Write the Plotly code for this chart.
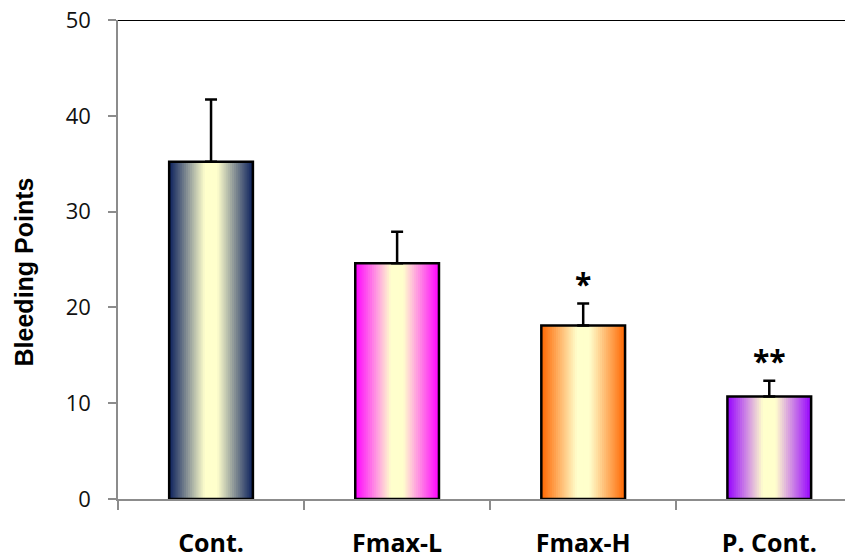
import plotly.graph_objects as go

categories = ["Cont.", "Fmax-L", "Fmax-H", "P. Cont."]
values = [35.2, 24.6, 18.1, 10.7]
errors = [6.5, 3.3, 2.3, 1.65]
signif = ["", "", "*", "**"]
y_ticks = [0, 10, 20, 30, 40, 50]

edge_colors = [(10, 31, 92), (255, 0, 255), (255, 102, 0), (150, 0, 255)]
center_color = (255, 255, 204)

BAR_W = 0.45
N = 40

def mix(c1, c2, t):
    return "rgb(%d,%d,%d)" % tuple(round(a + (b - a) * t) for a, b in zip(c1, c2))

fig = go.Figure()
step = BAR_W / N
for i in range(N):
    pos = (i + 0.5) / N  # 0..1 across bar
    d = abs(pos - 0.5) * 2  # 0 center, 1 edge
    t = min(1.0, max(0.0, (1 - d) / 0.85))
    cols = [mix(ec, center_color, t) for ec in edge_colors]
    w = step * 1.4 if i < N - 1 else step
    fig.add_trace(go.Bar(
        x=categories, y=values,
        offset=-BAR_W / 2 + i * step, width=w,
        marker=dict(color=cols, line=dict(width=0)),
        showlegend=False, hoverinfo="skip",
    ))

fig.add_trace(go.Bar(
    x=categories, y=values,
    offset=-BAR_W / 2, width=BAR_W,
    marker=dict(color="rgba(0,0,0,0)", line=dict(color="black", width=2.5)),
    error_y=dict(type="data", array=errors, symmetric=False, arrayminus=[0]*4,
                 color="black", thickness=2.5, width=6),
    showlegend=False,
))

for c, v, e, s in zip(categories, values, errors, signif):
    if s:
        fig.add_annotation(x=c, y=v + e, text="<b>%s</b>" % s, showarrow=False,
                           yanchor="bottom", yshift=-2,
                           font=dict(family="Open Sans", size=30, color="black"))

fig.add_annotation(xref="paper", yref="paper", x=-0.1286, y=0.474,
                   text="<b>Bleeding Points</b>", textangle=-90, showarrow=False,
                   xanchor="center", yanchor="middle",
                   font=dict(family="Liberation Sans, Arial", size=25, color="black"))

fig.add_shape(type="line", xref="paper", yref="y", x0=0, x1=1, y0=50, y1=50,
              line=dict(color="black", width=2))

fig.update_layout(
    width=845, height=551,
    margin=dict(l=110, r=0, t=12, b=60, autoexpand=False),
    paper_bgcolor="white", plot_bgcolor="white",
    barmode="overlay",
    xaxis=dict(
        range=[-0.5, 3.45], showgrid=False, zeroline=False,
        showline=True, linecolor="#8c8c8c", linewidth=1.5,
        ticks="outside", ticklen=9, tickcolor="#8c8c8c", tickwidth=1.5,
        tickson="boundaries", ticklabelstandoff=21,
        tickfont=dict(family="Open Sans", size=25, color="black", weight="bold"),
    ),
    yaxis=dict(
        range=[0, 50], tickvals=y_ticks, showgrid=False, zeroline=False,
        showline=True, linecolor="#8c8c8c", linewidth=1.5,
        ticks="outside", ticklen=8, tickcolor="#8c8c8c", tickwidth=1.5,
        ticklabelstandoff=13, ticklabeloverflow="allow",
        tickfont=dict(family="Open Sans", size=22, color="#111"),
    ),
)

fig.write_html("out.html")
